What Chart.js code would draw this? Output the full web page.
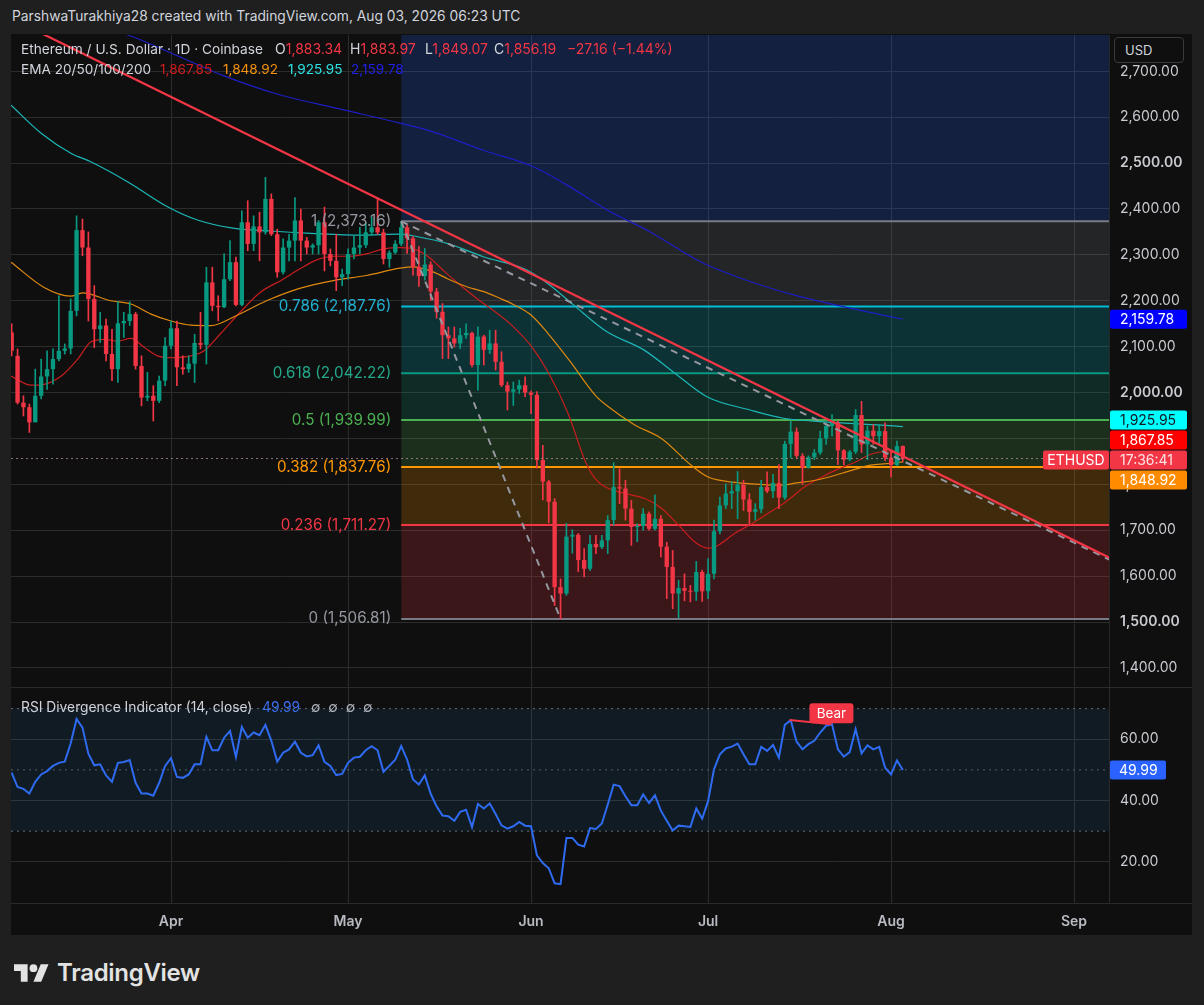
<!DOCTYPE html>
<html><head><meta charset="utf-8">
<script src="https://cdn.jsdelivr.net/npm/chart.js@4.4.1/dist/chart.umd.min.js"></script>
<style>
html,body{margin:0;padding:0;background:#1f1f1f;width:1204px;height:1005px;overflow:hidden;font-family:Inter,"Noto Sans",sans-serif;}
#top{position:absolute;left:12px;top:8px;color:#d1d4dc;font-size:13.8px;white-space:nowrap;}
#frame{position:absolute;left:11px;top:34px;width:1181px;height:901px;background:#0f0f0f;}
canvas{position:absolute;left:11px;}
#main{top:35px;} #rsi{top:687px;}
.lg{position:absolute;font-size:14px;color:#d1d4dc;white-space:nowrap;line-height:18px;}
.r{color:#f23645;}
#usd{position:absolute;left:1114px;top:37px;width:70px;height:26px;border:1px solid #3a3a3a;border-radius:4px;background:#0f0f0f;color:#d1d4dc;font-size:13px;line-height:25px;box-sizing:border-box;padding-left:10px;}
#logo{position:absolute;left:14px;top:958px;display:flex;align-items:center;color:#e3e3e3;font-size:24px;font-weight:600;letter-spacing:-0.3px;}
#logo svg{margin-right:8px;}
</style></head>
<body>
<div id="top">ParshwaTurakhiya28 created with TradingView.com, Aug 03, 2026 06:23 UTC</div>
<div id="frame"></div>
<canvas id="main" width="1181" height="652"></canvas>
<canvas id="rsi" width="1181" height="248"></canvas>
<div class="lg" style="top:40px;left:21px;font-size:13.7px">Ethereum / U.S. Dollar · 1D · Coinbase</div>
<div class="lg" style="top:40px;left:275px">O<span class="r">1,883.34</span></div>
<div class="lg" style="top:40px;left:350px">H<span class="r">1,883.97</span></div>
<div class="lg" style="top:40px;left:425px">L<span class="r">1,849.07</span></div>
<div class="lg" style="top:40px;left:494px">C<span class="r">1,856.19</span></div>
<div class="lg r" style="top:40px;left:567px">−27.16 (−1.44%)</div>
<div class="lg" style="top:60px;left:21px;font-size:13.6px">EMA 20/50/100/200</div>
<div class="lg" style="top:60px;left:160px;font-size:13.6px;color:#d01c1c">1,867.85</div>
<div class="lg" style="top:60px;left:223px;font-size:13.6px;color:#f5920f">1,848.92</div>
<div class="lg" style="top:60px;left:288px;font-size:13.6px;color:#2de3e3">1,925.95</div>
<div class="lg" style="top:60px;left:351px;font-size:13.6px;color:#2020e6">2,159.78</div>
<div class="lg" style="top:698px;left:21px;font-size:13.8px">RSI Divergence Indicator (14, close)</div>
<div class="lg" style="top:698px;left:262px;font-size:13.8px;color:#3a6ff0">49.99</div>
<div class="lg" style="top:698px;left:311px;font-size:13.8px;color:#b2b5be;word-spacing:4px">∅ ∅ ∅ ∅</div>
<div id="usd">USD</div>
<div id="logo"><svg width="35" height="18" viewBox="0 4 36 18"><path fill="#e3e3e3" d="M14 22H7V11H0V4h14v18zM28 22h-8l7.5-18h8L28 22z"/><circle fill="#e3e3e3" cx="20" cy="8" r="4"/></svg>TradingView</div>
<script>
// ---------- DATA ----------
const firstDay = 4; // day index, Mar 1 2026 = 0
const opens = [2131,2080,1978,1968,1935,1993,2035,2051,2073,2091,2096,2178,2354,2316,2204,2138,2146,2084,2051,2151,2156,2171,2058,1989,1993,1982,2026,2102,2140,2055,2051,2063,2108,2104,2240,2189,2186,2247,2284,2191,2371,2324,2362,2349,2422,2345,2262,2316,2331,2375,2331,2316,2321,2371,2302,2287,2251,2258,2302,2316,2321,2349,2360,2349,2291,2305,2324,2360,2336,2274,2254,2279,2220,2176,2125,2118,2107,2125,2130,2060,2122,2093,2107,2067,2016,2002,2007,2016,2000,1995,1853,1806,1762,1576,1562,1686,1690,1635,1616,1670,1663,1678,1722,1794,1791,1747,1707,1709,1736,1703,1725,1664,1620,1562,1574,1568,1566,1609,1567,1605,1698,1754,1780,1785,1799,1767,1740,1746,1794,1785,1803,1771,1888,1915,1862,1836,1859,1869,1900,1927,1934,1874,1854,1871,1951,1887,1917,1905,1916,1858,1842,1883.34];
const highs = [2150,2095,1993,1975,2051,2073,2091,2095,2211,2106,2204,2385,2378,2350,2233,2175,2160,2138,2198,2175,2198,2175,2080,2044,2015,2036,2120,2156,2156,2080,2080,2127,2175,2273,2273,2211,2302,2331,2295,2396,2418,2385,2393,2469,2433,2356,2335,2345,2425,2400,2338,2324,2375,2404,2313,2345,2269,2313,2342,2360,2371,2382,2422,2356,2309,2331,2373.16,2366,2340,2318,2314,2285,2227,2194,2143,2143,2140,2150,2132,2143,2125,2136,2136,2089,2023,2023,2027,2034,2003,2002,1885,1809,1769,1594,1715,1701,1693,1660,1689,1689,1689,1732,1847,1834,1809,1765,1714,1747,1740,1777,1732,1674,1656,1591,1605,1580,1632,1613,1638,1722,1772,1801,1806,1828,1809,1780,1758,1809,1827,1822,1843,1894,1938,1923,1867,1862,1876,1916,1934,1952,1938,1876,1874,1963,1981,1927,1930,1930,1934,1872,1894,1883.97];
const lows = [2080,1975,1949,1913,1940,1986,2007,2018,2069,2084,2084,2167,2298,2156,2098,2109,2069,2026,2022,2120,2146,2051,1971,1982,1938,1978,2015,2095,2015,2040,2044,2022,2095,2062,2178,2156,2185,2244,2189,2189,2309,2309,2287,2345,2342,2251,2258,2287,2287,2287,2302,2302,2302,2265,2276,2222,2233,2247,2291,2302,2316,2342,2345,2280,2273,2302,2320,2303,2256,2231,2245,2201,2162,2074,2074,2099,2096,2118,2056,2005,2060,2085,2049,2013,1962,1972,1998,1991,1954,1835,1766,1716,1536,1506.81,1558,1650,1610,1598,1612,1649,1660,1649,1711,1758,1722,1667,1675,1700,1700,1700,1642,1551,1529,1509,1546,1544,1547,1545,1551,1594,1692,1747,1747,1725,1743,1711,1722,1738,1782,1771,1747,1767,1858,1858,1800,1835,1854,1865,1887,1905,1843,1842,1851,1867,1869,1854,1887,1887,1851,1816,1840,1849.07];
const closes = [2091,1978,1968,1935,1993,2035,2051,2073,2091,2096,2178,2354,2316,2204,2138,2146,2084,2051,2151,2156,2171,2058,1989,1993,1982,2026,2102,2140,2055,2051,2063,2108,2104,2240,2189,2186,2247,2284,2191,2371,2324,2362,2349,2422,2345,2262,2316,2331,2375,2331,2316,2321,2371,2302,2287,2251,2258,2302,2316,2321,2349,2360,2349,2291,2305,2324,2360,2336,2274,2254,2279,2220,2176,2125,2118,2107,2125,2130,2060,2122,2093,2107,2067,2016,2002,2007,2016,2000,1995,1853,1806,1762,1576,1562,1686,1690,1635,1616,1670,1663,1678,1722,1794,1791,1747,1707,1709,1736,1703,1725,1664,1620,1562,1574,1568,1566,1609,1567,1605,1698,1754,1780,1785,1799,1767,1740,1746,1794,1785,1803,1771,1888,1915,1862,1836,1859,1869,1900,1927,1934,1874,1854,1871,1951,1887,1917,1905,1916,1858,1842,1883.34,1856.19];
const rsiValues = [49.1,44.4,43.8,42.3,46.1,48.5,49.6,51.3,52.3,52.7,58.6,66.6,63.8,55.3,51.5,51.8,48.2,46.1,52.3,52.6,53.2,45.8,42.3,42.3,41.6,45.8,51.3,53.8,47.7,47.4,48.5,51.8,51.8,60.8,56.4,56.4,60.5,62.7,54.2,64.0,60.5,62.2,61.3,64.7,59.5,52.7,55.6,56.7,59.2,55.6,54.4,54.8,58.0,52.6,51.3,48.3,48.7,52.3,54.0,54.3,56.4,57.7,56.4,49.4,51.3,53.3,57.8,53.4,46.9,45.2,48.2,42.2,38.1,35.1,34.9,33.4,36.3,37.0,31.3,38.9,37.4,39.0,35.6,31.9,30.8,31.6,33.0,31.8,31.6,22.1,19.6,17.9,13.0,12.7,27.8,27.8,25.6,25.0,31.0,30.7,32.5,38.7,45.2,44.7,41.4,38.5,38.5,42.0,39.2,41.7,36.7,33.4,30.2,31.8,31.6,31.4,37.4,34.1,39.8,50.2,55.1,57.0,57.6,58.6,55.1,51.8,51.8,57.5,56.2,58.1,54.0,64.7,66.2,59.2,56.7,58.4,59.5,62.2,64.4,64.9,56.7,54.3,55.8,63.3,55.4,58.0,56.7,57.5,50.7,48.5,53.1,49.99];
// EMA readings [day, value]
const ema20 = [[3.9,2036],[7.3,2016],[9.5,2018],[12.4,2036],[15.2,2073],[17.4,2110],[19.7,2116],[22,2112],[24.2,2118],[26.5,2098],[28.7,2080],[31,2076],[34.4,2080],[36.6,2091],[39.3,2127],[42.7,2175],[46.1,2218],[50,2247],[52.8,2269],[55.7,2289],[58.5,2297],[61.3,2297],[64.1,2302],[67,2313],[69.8,2316],[71.8,2314],[74.6,2296],[77.4,2263],[80.3,2231],[83.1,2202],[85.9,2176],[88.7,2147],[92.1,2100],[95,2042],[98.3,1954],[101.2,1850],[102.9,1812],[104.6,1794],[107.9,1780],[111.3,1769],[114.2,1747],[117,1711],[119.8,1674],[122.1,1661],[123.8,1668],[126.6,1694],[129.4,1714],[132.3,1738],[135.2,1762],[138.2,1793],[141,1814],[143.8,1832],[146.7,1847],[149.5,1865],[151.7,1871],[155,1867.85]];
const ema50 = [[3.9,2284],[9.5,2229],[14,2210],[16,2217],[20.8,2200],[24.2,2193],[27.6,2171],[31,2156],[34.4,2147],[37.8,2146],[41.5,2164],[47.2,2200],[52.8,2227],[58.5,2244],[64.1,2255],[69.8,2271],[72,2274],[75.4,2263],[78,2247],[81,2231],[84,2220],[86.6,2206],[89,2192],[92,2169],[95,2127],[98.5,2070],[102.9,1994],[105,1970],[109.5,1930],[114.2,1899],[119.2,1841],[122,1816],[124.9,1807],[129.4,1801],[133.9,1798],[137,1803],[141,1811],[146.7,1832],[149.5,1842],[152.3,1845],[155,1848.92]];
const ema100 = [[3.9,2626],[9,2565],[14.1,2521],[17.4,2503],[23.7,2459],[30.4,2405],[35.5,2376],[41.2,2359],[47.9,2352],[54.7,2347],[63.2,2343],[69.8,2345],[72.6,2340],[78.3,2323],[83.9,2296],[91.3,2267],[95.2,2234],[99.2,2191],[104.8,2133],[111.1,2093],[116.1,2045],[121.8,1991],[129.1,1962],[134.8,1944],[143.3,1935],[150,1930],[155,1925.95]];
const ema200 = [[15,2810],[23.7,2779],[31,2740],[40,2690],[49.1,2650],[60.3,2616],[69.8,2587],[75.4,2568],[83.9,2528],[92.4,2492],[98.1,2452],[104.9,2398],[112.2,2350],[120.7,2285],[129.1,2242],[137.6,2209],[146.1,2184],[155,2159.78]];
// Drawings
const redTrend = [[0,2840],[190,1640]];
const grayTrend = [[70,2373.16],[190,1636]];
const fibDiagonal = [[70,2373.16],[97,1506.81]];
const fibStartDay = 70, fibEndDay = 190;
const fibRatios = [1,0.786,0.618,0.5,0.382,0.236,0];
const fibPrices = [2373.16,2187.76,2042.22,1939.99,1837.76,1711.27,1506.81];
const fibExtPrice = 2908.58; // 1.618 level
const fibColors = ['#787b86','#00bcd4','#089981','#4caf50','#ff9800','#f23645','#787b86'];
const fibLabelColors = ['#9598a1','#22b0d0','#23a98a','#4caf50','#ff9800','#f23645','#9598a1'];
const fibFills = ['rgba(41,98,255,0.2)','rgba(120,123,134,0.2)','rgba(0,188,212,0.2)','rgba(8,153,129,0.2)','rgba(76,175,80,0.2)','rgba(255,152,0,0.2)','rgba(242,54,69,0.2)'];
const lastPrice = 1856.19;
const tagValues = [2159.78,1925.95,1867.85,1856.19,1848.92];
const tagTexts = ['2,159.78','1,925.95','1,867.85','17:36:41','1,848.92'];
const tagBgs = ['#0000ff','#00ffff','#ff0000','#f23645','#ff8c00'];
const tagFgs = ['#ffffff','#131722','#ffffff','#ffe1e4','#ffffff'];
const monthDays = [31,61,92,122,153,184];
const monthLabels = ['Apr','May','Jun','Jul','Aug','Sep'];
const priceTicks = [1400,1500,1600,1700,1800,1900,2000,2100,2200,2300,2400,2500,2600,2700];
const rsiTicks = [20,40,60];
const rsiLevels = [70,50,30];
const divergence = [[135.8,66.3],[142.9,64.9]];
const bearLabel = [142.9,64.9,'Bear'];

// ---------- CHART ----------
Chart.defaults.font.family = 'Inter, "Noto Sans", sans-serif';
Chart.defaults.animation = false;
const FONT = 'Inter, "Noto Sans", sans-serif';
const GRID = '#2c2c2c';
const X_MIN = 3.89, X_MAX = 189.93;
const fmt = v => v.toLocaleString('en-US',{minimumFractionDigits:2,maximumFractionDigits:2});
const pts = arr => arr.map(p => ({x:p[0], y:p[1]}));
const days = opens.map((_,i) => firstDay + i);
const isUp = i => closes[i] >= opens[i];
const candleColor = ctx => isUp(ctx.dataIndex) ? '#089981' : '#f23645';
function zeroPad(s){ s.paddingTop=0; s.paddingBottom=0; s.paddingLeft=0; s.paddingRight=0; }
function rr(ctx,x,y,w,h,r){ctx.beginPath();ctx.moveTo(x+r,y);ctx.lineTo(x+w-r,y);ctx.quadraticCurveTo(x+w,y,x+w,y+r);ctx.lineTo(x+w,y+h-r);ctx.quadraticCurveTo(x+w,y+h,x+w-r,y+h);ctx.lineTo(x+r,y+h);ctx.quadraticCurveTo(x,y+h,x,y+h-r);ctx.lineTo(x,y+r);ctx.quadraticCurveTo(x,y,x+r,y);ctx.closePath();}
function layoutTags(tags,h){
  tags.sort((a,b)=>a.y-b.y);
  let cl = tags.map(t=>({items:[t],c:t.y}));
  let changed = true;
  while(changed){
    changed=false;
    for(let i=0;i<cl.length-1;i++){
      const a=cl[i], b=cl[i+1];
      if(a.c + a.items.length*h/2 > b.c - b.items.length*h/2){
        const items=a.items.concat(b.items);
        cl.splice(i,2,{items, c: items.reduce((s,t)=>s+t.y,0)/items.length});
        changed=true; break;
      }
    }
  }
  cl.forEach(c=>{const top=c.c-c.items.length*h/2; c.items.forEach((t,k)=>t.py=top+h*(k+0.5));});
}

const fibDatasets = [];
const fibAll = [fibExtPrice].concat(fibPrices);
fibAll.forEach((p,i)=>{
  fibDatasets.push({type:'line', data:[{x:fibStartDay,y:p},{x:fibEndDay,y:p}],
    borderColor: i===0 ? 'rgba(0,0,0,0)' : fibColors[i-1], borderWidth: i===0?0:2,
    backgroundColor: i < fibAll.length-1 ? fibFills[i] : 'transparent',
    fill: i < fibAll.length-1 ? '+1' : false, pointRadius:0, order:20});
});
const lineDs = (data,color,w,order,extra) => Object.assign({type:'line', data:pts(data), borderColor:color, borderWidth:w, pointRadius:0, fill:false, order, cubicInterpolationMode:'monotone'}, extra||{});

const mainOverlay = {
  id:'mainOverlay',
  afterDraw(chart){
    const {ctx, chartArea:ca, scales:{x,y}} = chart;
    ctx.save();
    ctx.fillStyle = '#262626';
    ctx.fillRect(Math.round(ca.right), 0, 1, chart.height);
    ctx.font = '15.2px '+FONT; ctx.textAlign='right'; ctx.textBaseline='middle';
    const lx = x.getPixelForValue(fibStartDay) - 10;
    fibRatios.forEach((r,i)=>{ ctx.fillStyle = fibLabelColors[i]; ctx.fillText(r+' ('+fmt(fibPrices[i])+')', lx, y.getPixelForValue(fibPrices[i])); });
    const tags = tagValues.map((v,i)=>({v, y:y.getPixelForValue(v), text:tagTexts[i], bg:tagBgs[i], fg:tagFgs[i], cur: v===lastPrice}));
    layoutTags(tags,20);
    ctx.font = '14px '+FONT; ctx.textAlign='left';
    tags.forEach(t=>{
      ctx.fillStyle=t.bg; rr(ctx, ca.right+1, t.py-9.5, 77, 19, 2); ctx.fill();
      ctx.fillStyle=t.fg; ctx.fillText(t.text, ca.right+11, t.py+0.5);
      if(t.cur){
        ctx.fillStyle=t.bg; rr(ctx, ca.right-66, t.py-9.5, 66, 19, 2); ctx.fill();
        ctx.fillStyle='#ffffff'; ctx.textAlign='center'; ctx.fillText('ETHUSD', ca.right-33, t.py+0.5); ctx.textAlign='left';
      }
    });
    ctx.restore();
  }
};

new Chart(document.getElementById('main'), {
  type:'bar',
  data:{datasets: fibDatasets.concat([
    lineDs(ema200,'#1e1ec8',1.2,8),
    lineDs(ema100,'#1cb8b8',1.2,8),
    lineDs(ema50,'#e0890f',1.2,8),
    lineDs(ema20,'#c81e1e',1.2,8),
    {type:'bar', data: days.map((d,i)=>({x:d, y:[lows[i],highs[i]]})), backgroundColor:candleColor, maxBarThickness:1, barPercentage:1, categoryPercentage:1, grouped:false, order:6},
    {type:'bar', data: days.map((d,i)=>({x:d, y:[opens[i],closes[i]]})), backgroundColor:candleColor, barPercentage:0.74, categoryPercentage:1, grouped:false, minBarLength:1, order:5},
    lineDs([[X_MIN,lastPrice],[X_MAX,lastPrice]],'rgba(190,150,156,0.75)',1,4,{borderDash:[2,3]}),
    lineDs(fibDiagonal,'#9598a1',2,3,{borderDash:[7,6]}),
    lineDs(grayTrend,'#9598a1',2,3,{borderDash:[7,6]}),
    lineDs(redTrend,'#f23645',2.2,2)
  ])},
  options:{
    responsive:false, maintainAspectRatio:false, animation:false,
    layout:{padding:0},
    plugins:{legend:{display:false}, tooltip:{enabled:false}, filler:{drawTime:'beforeDatasetsDraw'}},
    scales:{
      x:{type:'linear', min:X_MIN, max:X_MAX, offset:false, ticks:{display:false}, border:{display:false},
         grid:{color:GRID, drawTicks:false, offset:false},
         afterBuildTicks:s=>{s.ticks = monthDays.map(v=>({value:v}));},
         afterFit:s=>{s.height=0; zeroPad(s);}},
      y:{type:'linear', position:'right', min:1358.4, max:2779.1, border:{display:false},
         grid:{color:GRID, drawTicks:false, offset:false},
         afterBuildTicks:s=>{s.ticks = priceTicks.map(v=>({value:v}));},
         ticks:{padding:11, color:'#c9cbd1', callback:v=>fmt(v),
                font:c=>({size:14, weight: (c.tick && c.tick.value%500===0) ? '600':'400'})},
         afterFit:s=>{s.width=83; zeroPad(s);}}
    }
  },
  plugins:[mainOverlay]
});

const rsiOverlay = {
  id:'rsiOverlay',
  afterDraw(chart){
    const {ctx, chartArea:ca, scales:{x,y}} = chart;
    ctx.save();
    ctx.fillStyle='#2a2a2a';
    ctx.fillRect(0,0,chart.width,1);
    ctx.fillRect(Math.round(ca.right),0,1,ca.bottom);
    ctx.fillRect(0,Math.round(ca.bottom),chart.width,1);
    const bx = x.getPixelForValue(bearLabel[0]), by = y.getPixelForValue(bearLabel[1]);
    ctx.fillStyle='#f23645'; rr(ctx, bx-22, by-21, 44, 20, 3); ctx.fill();
    ctx.fillStyle='#ffffff'; ctx.font='13.5px '+FONT; ctx.textAlign='center'; ctx.textBaseline='middle';
    ctx.fillText(bearLabel[2], bx, by-10.5);
    const last = rsiValues[rsiValues.length-1];
    const ty = y.getPixelForValue(last);
    ctx.font='14px '+FONT;
    ctx.fillStyle='#2962ff'; rr(ctx, ca.right+1, ty-9.5, 56, 19, 2); ctx.fill();
    ctx.fillStyle='#ffffff'; ctx.textAlign='left'; ctx.fillText(fmt(last), ca.right+10, ty+0.5);
    ctx.restore();
  }
};

new Chart(document.getElementById('rsi'), {
  type:'line',
  data:{datasets:[
    {data:[{x:X_MIN,y:rsiLevels[0]},{x:X_MAX,y:rsiLevels[0]}], borderColor:'#6a6d75', borderWidth:1, borderDash:[2,4], pointRadius:0, fill:'+1', backgroundColor:'rgba(33,150,243,0.09)', order:10},
    {data:[{x:X_MIN,y:rsiLevels[2]},{x:X_MAX,y:rsiLevels[2]}], borderColor:'#6a6d75', borderWidth:1, borderDash:[2,4], pointRadius:0, fill:false, order:10},
    {data:[{x:X_MIN,y:rsiLevels[1]},{x:X_MAX,y:rsiLevels[1]}], borderColor:'#5a5d65', borderWidth:1, borderDash:[2,4], pointRadius:0, fill:false, order:10},
    {data: days.map((d,i)=>({x:d,y:rsiValues[i]})), borderColor:'#2f6bf0', borderWidth:2, pointRadius:0, fill:false, tension:0, order:2},
    {data: pts(divergence), borderColor:'#f23645', borderWidth:2, pointRadius:0, fill:false, order:1}
  ]},
  options:{
    responsive:false, maintainAspectRatio:false, animation:false,
    layout:{padding:0},
    plugins:{legend:{display:false}, tooltip:{enabled:false}, filler:{drawTime:'beforeDatasetsDraw'}},
    scales:{
      x:{type:'linear', min:X_MIN, max:X_MAX, offset:false, border:{display:false},
         grid:{color:GRID, drawTicks:false, offset:false},
         afterBuildTicks:s=>{s.ticks = monthDays.map(v=>({value:v}));},
         ticks:{padding:10, color:'#b8bbc2', autoSkip:false, maxRotation:0, font:{size:14, weight:'600'},
                callback:v=>monthLabels[monthDays.indexOf(v)]},
         afterFit:s=>{s.height=32; zeroPad(s);}},
      y:{type:'linear', position:'right', min:6.56, max:77.05, border:{display:false},
         grid:{color:GRID, drawTicks:false},
         afterBuildTicks:s=>{s.ticks = rsiTicks.map(v=>({value:v}));},
         ticks:{padding:11, color:'#c9cbd1', callback:v=>fmt(v), font:{size:14}},
         afterFit:s=>{s.width=83; zeroPad(s);}}
    }
  },
  plugins:[rsiOverlay]
});
</script>
</body></html>
